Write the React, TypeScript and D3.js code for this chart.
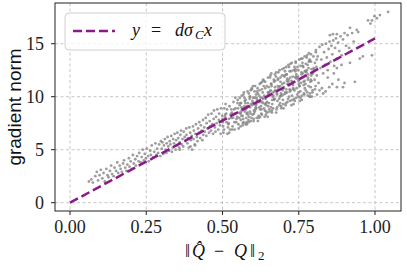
import * as d3 from "d3";

const xTicks = [0, 0.25, 0.5, 0.75, 1.0];
const yTicks = [0, 5, 10, 15];
const fitSlope = 15.5;
const fitXs = [0, 1];

// low end of the cloud
const lowCloud: [number, number][] = [
  [0.062,2.0],[0.07,2.2],[0.075,1.9],[0.083,2.5],[0.088,2.9],[0.092,2.1],[0.097,2.6],[0.101,3.1],[0.106,2.3],[0.11,2.8],
  [0.114,2.0],[0.119,3.2],[0.123,2.6],[0.126,2.4],[0.131,3.0],[0.135,3.5],[0.138,2.7],[0.143,2.5],[0.146,3.3],[0.151,3.0],
  [0.155,3.8],[0.158,2.8],[0.163,3.5],[0.166,3.2],[0.17,2.9],[0.174,3.7],[0.177,4.0],[0.181,3.3],[0.185,3.0],[0.188,3.6],
  [0.193,4.2],[0.195,3.4],[0.199,3.9],[0.203,3.2],[0.206,4.5],[0.209,3.7],[0.214,4.1],[0.216,3.5],[0.22,4.4],[0.225,3.9],
  [0.227,4.7],[0.232,3.8],[0.235,4.3],[0.238,5.0],[0.242,4.0],[0.245,4.6],[0.249,4.2],[0.252,5.1],[0.256,4.4],[0.258,3.9],
  [0.263,4.9],[0.265,4.5],[0.268,5.4],[0.273,4.3],[0.276,4.8],[0.28,5.6],[0.283,4.5],[0.286,5.1],[0.289,4.7],[0.292,5.5],
  [0.296,4.4],[0.298,5.8],
];

const midCloud: [number, number][] = [
  [0.301,5.1],[0.303,5.7],[0.306,4.6],[0.308,5.4],[0.311,6.0],[0.313,5.0],[0.316,4.7],[0.317,5.6],[0.32,6.2],[0.322,5.3],
  [0.325,4.9],[0.327,5.8],[0.329,5.5],[0.332,6.3],[0.334,4.8],[0.337,5.2],[0.338,6.0],[0.341,5.6],[0.343,6.5],[0.346,5.0],
  [0.348,5.9],[0.351,5.4],[0.352,6.6],[0.355,6.1],[0.358,5.2],[0.359,5.7],[0.362,6.4],[0.364,6.8],[0.366,5.5],[0.369,6.0],
  [0.371,5.3],[0.373,6.7],[0.376,6.2],[0.378,5.8],[0.381,7.0],[0.382,6.4],[0.385,5.6],[0.387,6.1],[0.389,5.2],[0.391,7.1],
  [0.394,6.6],[0.396,5.9],[0.399,6.3],[0.4,5.0],[0.403,7.2],[0.405,6.0],[0.406,6.8],[0.409,5.5],[0.411,6.5],[0.413,7.4],
  [0.416,6.2],[0.418,5.8],[0.42,7.0],[0.423,6.6],[0.424,7.6],[0.427,6.1],[0.429,7.3],[0.431,6.8],[0.434,5.9],[0.436,7.8],
  [0.437,6.4],[0.44,7.1],[0.442,6.7],[0.445,8.0],[0.447,6.3],[0.448,7.5],[0.451,7.0],[0.453,8.3],[0.456,6.6],[0.458,7.7],
  [0.459,7.2],[0.462,6.8],[0.464,8.4],[0.466,7.4],[0.469,6.5],[0.471,7.9],[0.472,8.7],[0.475,7.1],[0.477,6.7],[0.479,8.1],
  [0.481,7.5],[0.483,8.8],[0.486,6.9],[0.488,7.8],[0.489,8.4],[0.492,7.3],[0.494,6.5],[0.495,8.9],[0.497,7.7],[0.499,8.2],
  [0.36,5.0],[0.41,5.4],[0.395,5.3],
];

// dense core, columns of x with their y values
const coreXs = [0.50,0.51,0.52,0.53,0.54,0.55,0.56,0.57,0.58,0.59,0.60,0.61,0.62,0.63,0.64,0.65,0.66,0.67,0.68,0.69,0.70,0.71,0.72,0.73,0.74,0.75,0.76,0.77,0.78,0.79,0.80];
const coreYs = [
  [7.9,6.6,8.9,7.2,8.1,6.9,8.3,7.6],
  [9.3,7.6,6.5,8.4,7.1,8.8,7.4,7.9],
  [7.5,9.1,8.3,6.6,8.0,6.9,8.8,7.9],
  [8.4,7.2,9.5,6.9,8.8,8.0,7.6,8.5],
  [6.9,8.9,7.9,9.9,8.1,7.6,9.4,8.4],
  [9.7,7.0,8.5,7.4,9.4,8.0,8.4,8.9],
  [8.5,10.1,7.3,9.0,7.9,8.9,7.6,9.4],
  [10.4,8.6,7.4,9.9,8.0,9.4,8.4,8.9],
  [7.4,9.4,10.3,8.5,9.1,7.8,10.0,9.0],
  [9.0,7.7,10.7,8.4,9.6,8.0,9.4,10.0],
  [11.0,8.4,9.9,7.7,8.8,10.5,9.0,9.4],
  [8.9,10.5,7.7,9.9,8.2,10.8,9.5,9.3],
  [10.1,8.1,11.3,9.5,8.8,9.9,8.3,10.6],
  [9.5,11.6,8.9,10.4,8.1,11.0,9.3,9.9],
  [11.4,8.6,10.0,9.4,8.1,11.0,10.4,9.8],
  [10.2,8.8,11.8,9.4,10.6,8.6,11.2,10.4],
  [12.2,9.3,10.4,8.5,11.6,10.0,9.7,11.0],
  [9.8,11.5,8.5,10.9,10.3,11.9,9.0,10.5],
  [10.6,12.3,9.2,11.7,10.0,10.9,9.4,11.0],
  [11.4,8.9,12.6,10.3,9.7,12.0,10.8,10.1],
  [8.9,12.0,10.3,11.3,9.4,12.4,10.7,10.9],
  [12.1,9.5,11.4,10.4,12.8,9.8,11.1,11.5],
  [10.7,13.1,9.2,11.8,10.1,12.4,11.2,10.5],
  [11.4,9.3,12.8,10.7,11.8,9.8,12.4,11.1],
  [13.2,10.8,11.8,9.9,12.5,10.2,11.5,11.9],
  [11.2,9.6,12.9,11.0,13.6,10.5,12.3,11.6],
  [9.7,12.2,11.1,13.2,10.2,12.8,11.5,11.8],
  [12.4,10.6,13.7,11.2,10.4,12.3,13.0,12.0],
  [11.6,14.1,10.0,12.7,11.4,13.4,10.9,12.1],
  [13.3,10.0,12.2,11.5,13.8,10.6,12.7,12.0],
  [12.4,10.7,14.2,11.6,12.8,11.0,13.5,12.6],
];
const coreJitter = [0.0, 0.003, 0.006, 0.002, 0.008, 0.005, 0.009, 0.001];

const fillXs = [0.555,0.565,0.575,0.585,0.595,0.605,0.615,0.625,0.635,0.645,0.655,0.665,0.675,0.685,0.695,0.705,0.715,0.725,0.735,0.745,0.755,0.765,0.775,0.785];
const fillYs = [
  [9.2,7.2,9.9,8.2,7.8,8.7],
  [8.2,10.2,7.5,9.1,8.8,9.6],
  [9.7,7.6,8.8,10.5,9.1,8.3],
  [7.6,9.8,8.1,10.6,8.6,9.3],
  [10.8,8.3,9.2,7.9,9.9,8.7],
  [8.6,9.2,11.0,8.0,10.2,9.7],
  [10.3,8.0,9.6,11.2,9.0,8.8],
  [9.1,10.7,8.4,9.4,11.4,9.8],
  [11.5,8.7,10.1,8.3,10.8,9.2],
  [9.5,11.8,8.5,10.9,9.1,10.2],
  [10.5,9.0,12.0,8.7,11.2,9.7],
  [8.9,11.4,10.1,12.1,9.8,10.6],
  [12.3,10.2,8.8,11.6,9.6,10.7],
  [9.8,11.0,12.5,9.1,11.8,10.1],
  [11.2,9.3,10.6,12.7,10.2,11.9],
  [10.4,12.8,9.2,11.7,12.1,11.2],
  [13.0,10.0,11.6,9.6,12.4,10.6],
  [11.5,9.7,13.2,10.8,11.9,12.5],
  [10.6,12.6,9.6,12.1,13.3,11.7],
  [12.8,10.4,11.9,13.5,10.0,11.0],
  [9.9,12.1,11.3,13.6,10.1,12.9],
  [11.4,13.8,10.3,12.4,10.8,13.1],
  [12.5,10.1,13.9,11.0,11.8,13.3],
  [13.5,11.6,10.3,12.6,14.0,12.2],
];
const fillJitter = [0.001, 0.004, 0.002, 0.007, 0.005, 0.008];

const tailCloud: [number, number][] = [
  [0.803,13.2],[0.806,14.4],[0.809,12.0],[0.812,13.8],[0.815,11.3],[0.818,14.7],[0.821,12.7],[0.824,13.5],[0.827,14.9],[0.83,12.2],
  [0.833,14.2],[0.836,13.0],[0.839,15.0],[0.842,13.7],[0.845,12.5],[0.848,14.5],[0.851,15.2],[0.854,13.3],[0.857,14.8],[0.86,14.0],
  [0.863,15.3],[0.866,12.9],[0.869,14.6],[0.872,15.5],[0.875,13.6],[0.879,15.1],[0.883,14.3],[0.887,15.7],[0.891,13.9],[0.895,15.4],
  [0.9,16.0],[0.905,14.8],[0.91,15.8],[0.918,16.5],[0.925,16.0],[0.94,16.3],[0.945,16.1],[0.93,15.2],
  [0.852,15.8],[0.862,15.9],[0.875,15.9],
];

const lowerBranch: [number, number][] = [
  [0.787,10.0],[0.795,10.4],[0.81,10.2],[0.818,10.6],[0.826,10.8],[0.83,10.3],[0.838,10.5],[0.85,10.9],[0.86,11.2],[0.875,10.9],
  [0.88,11.6],[0.895,10.9],[0.9,11.3],[0.934,11.4],[0.845,11.8],[0.865,12.2],[0.875,12.7],[0.89,13.0],[0.918,13.2],[0.95,13.6],
  [0.96,13.8],[0.99,13.9],[0.915,14.6],
];

const topTail: [number, number][] = [
  [0.977,17.2],[0.99,17.2],[1.006,17.4],[1.016,17.7],[1.043,18.0],[0.985,16.9],[0.998,17.6],
];

const W = 407;
const H = 274;
const left = 55, right = 401, top = 3, bottom = 211;

export default function App() {
  const x = d3.scaleLinear().domain([-0.0492, 1.0852]).range([left, right]);
  const y = d3.scaleLinear().domain([-0.783, 18.84]).range([bottom, top]);

  const points: [number, number][] = [...lowCloud, ...midCloud];
  coreXs.forEach((cx, i) => coreYs[i].forEach((v, j) => points.push([cx + coreJitter[j], v])));
  fillXs.forEach((cx, i) => fillYs[i].forEach((v, j) => points.push([cx + fillJitter[j], v])));
  points.push(...tailCloud, ...lowerBranch, ...topTail);

  const line = d3.line<number>().x((d) => x(d)).y((d) => y(fitSlope * d));
  const fmt = d3.format(".2f");
  const purple = "#8a1a8a";
  const serif = "'Liberation Serif', 'DejaVu Serif', serif";

  return (
    <svg width={W} height={H} style={{ position: "absolute", left: 0, top: 0, background: "#fff" }}>
      {/* grid */}
      {xTicks.map((t) => (
        <line key={"gx" + t} x1={x(t)} x2={x(t)} y1={top} y2={bottom} stroke="#b8b8b8" strokeWidth={0.8} strokeDasharray="3,2.5" />
      ))}
      {yTicks.map((t) => (
        <line key={"gy" + t} x1={left} x2={right} y1={y(t)} y2={y(t)} stroke="#b8b8b8" strokeWidth={0.8} strokeDasharray="3,2.5" />
      ))}
      {/* scatter */}
      <g fill="#858585" fillOpacity={0.8}>
        {points.map((p, i) => (
          <circle key={i} cx={x(p[0])} cy={y(p[1])} r={1.4} />
        ))}
      </g>
      <path d={line(fitXs) || ""} fill="none" stroke={purple} strokeWidth={2.5} strokeDasharray="9,4" />
      {/* frame */}
      <rect x={left} y={top} width={right - left} height={bottom - top} fill="none" stroke="#222" strokeWidth={1} />
      {/* ticks */}
      {xTicks.map((t) => (
        <g key={"tx" + t}>
          <line x1={x(t)} x2={x(t)} y1={bottom} y2={bottom + 4} stroke="#222" />
          <text x={x(t)} y={233} textAnchor="middle" fontFamily={serif} fontSize={18} fill="#222">{fmt(t)}</text>
        </g>
      ))}
      {yTicks.map((t) => (
        <g key={"ty" + t}>
          <line x1={left - 4} x2={left} y1={y(t)} y2={y(t)} stroke="#222" />
          <text x={44} y={y(t) + 6} textAnchor="end" fontFamily={serif} fontSize={18} fill="#222">{t}</text>
        </g>
      ))}
      {/* axis labels */}
      <text transform={`translate(21,${(top + bottom) / 2}) rotate(-90)`} textAnchor="middle" fontFamily="'Liberation Sans', Arial, sans-serif" fontSize={19} fill="#111">gradient norm</text>
      <g fontFamily={serif} fontSize={18} fill="#111">
        <text x={185} y={257}>‖</text>
        <text x={192} y={257} fontStyle="italic">Q̂</text>
        <text x={214} y={257}>−</text>
        <text x={234} y={257} fontStyle="italic">Q</text>
        <text x={250} y={257}>‖</text>
        <text x={258} y={260} fontSize={13}>2</text>
      </g>
      {/* legend */}
      <rect x={65} y={13} width={160} height={37} rx={4} fill="#fff" fillOpacity={0.8} stroke="#d0d0d0" strokeWidth={1} />
      <line x1={73} x2={115} y1={31} y2={31} stroke={purple} strokeWidth={2.5} strokeDasharray="9,4" />
      <g fontFamily={serif} fontSize={18} fill="#111">
        <text x={132} y={36} fontStyle="italic">y</text>
        <text x={151} y={36}>=</text>
        <text x={175} y={36} fontStyle="italic">dσ</text>
        <text x={195} y={39} fontStyle="italic" fontSize={13}>C</text>
        <text x={204} y={36} fontStyle="italic">x</text>
      </g>
    </svg>
  );
}
